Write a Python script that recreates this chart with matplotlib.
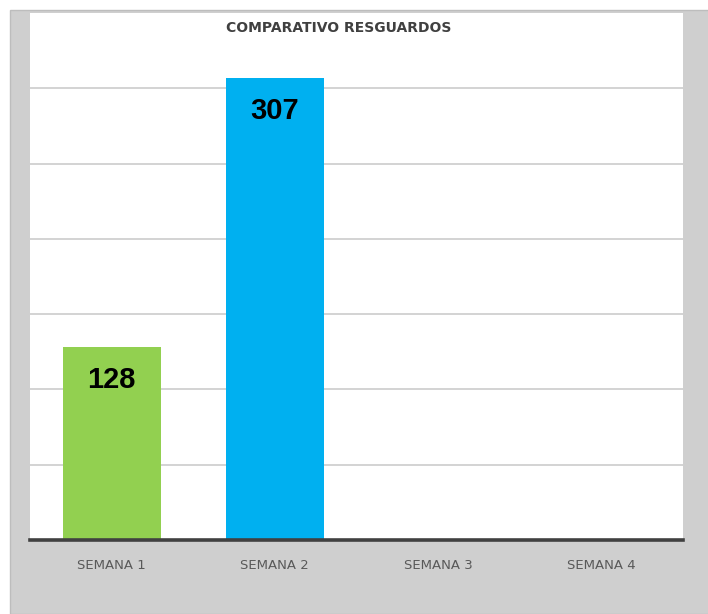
import matplotlib
matplotlib.use("Agg")
import matplotlib.pyplot as plt
from matplotlib.patches import Rectangle

# ─── Data ─────────────────────────────────────────────────────────────────────
semanas = ["SEMANA 1", "SEMANA 2", "SEMANA 3", "SEMANA 4"]
resguardos = [128, 307, 0, 0]
colores = ["#92D050", "#00B0F0", "#92D050", "#00B0F0"]
titulo = "COMPARATIVO RESGUARDOS"

NARROW = ["Liberation Sans Narrow", "DejaVu Sans"]

fig = plt.figure(figsize=(7.08, 6.14), dpi=100)
fig.patch.set_facecolor("white")

# gray chart frame behind the plot area
fig.add_artist(Rectangle((10 / 708, 0), 1, 1 - 10 / 614,
                         transform=fig.transFigure, facecolor="#cfcfcf",
                         edgecolor="#bdbdbd", lw=1.0, zorder=0))

ax = fig.add_axes([30 / 708, 1 - 540 / 614, 653 / 708, 527 / 614])
ax.set_facecolor("white")
ax.set_zorder(1)

x = list(range(len(semanas)))
ax.bar(x, resguardos, width=0.6, color=colores, zorder=3)
for xi, v in zip(x, resguardos):
    if v > 0:
        ax.text(xi, v - 22, str(v), ha="center", va="center",
                fontsize=21, fontweight="bold", color="black",
                family=["Liberation Sans", "DejaVu Sans"], zorder=4)

ax.set_xlim(-0.5, len(semanas) - 0.5)
ax.set_ylim(0, 350)
ax.set_yticks(range(50, 301, 50))
ax.yaxis.grid(True, color="#d0d0d0", lw=1.3, zorder=0)
ax.tick_params(axis="y", left=False, labelleft=False)
ax.tick_params(axis="x", bottom=False, pad=10)
ax.set_xticks(x)
ax.set_xticklabels(semanas, fontsize=9.5, color="#595959", family=NARROW)

for side in ["top", "left", "right"]:
    ax.spines[side].set_visible(False)
ax.spines["bottom"].set_color("#404040")
ax.spines["bottom"].set_linewidth(2.6)
ax.spines["bottom"].set_zorder(5)

ax.text(0.473, 340, titulo, transform=ax.get_yaxis_transform(),
        ha="center", va="center", fontsize=10, fontweight="bold",
        color="#404040", family=NARROW)

plt.savefig("out.png", dpi=100)
